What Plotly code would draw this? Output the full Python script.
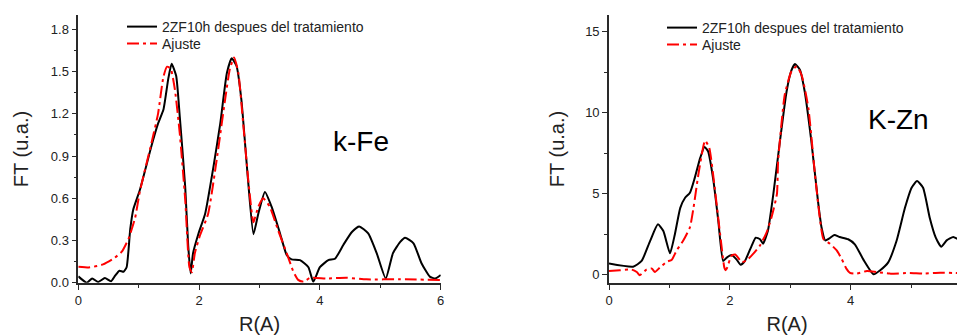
import plotly.graph_objects as go

# ---- k-Fe panel data ----
fe_exp_r = [0.0, 0.14, 0.23, 0.33, 0.44, 0.54, 0.61, 0.68, 0.75, 0.80, 0.86, 0.91, 1.02, 1.21, 1.32,
            1.41, 1.49, 1.545, 1.62, 1.68, 1.77, 1.82, 1.86, 1.90, 1.99, 2.10, 2.24, 2.35, 2.46, 2.54,
            2.62, 2.70, 2.81, 2.90, 2.98, 3.09, 3.20, 3.34, 3.45, 3.53, 3.67, 3.81, 3.89, 4.00, 4.14,
            4.25, 4.39, 4.53, 4.65, 4.80, 4.94, 5.09, 5.21, 5.33, 5.41, 5.55, 5.68, 5.82, 5.91, 6.0]
fe_exp_ft = [0.045, 0.0, 0.03, 0.005, 0.033, 0.01, 0.05, 0.085, 0.078, 0.11, 0.38, 0.52, 0.66, 0.97, 1.13,
             1.23, 1.45, 1.555, 1.47, 1.18, 0.68, 0.26, 0.066, 0.21, 0.35, 0.49, 0.83, 1.13, 1.49, 1.595,
             1.54, 1.30, 0.73, 0.345, 0.49, 0.645, 0.54, 0.35, 0.197, 0.166, 0.16, 0.11, 0.007, 0.11, 0.16,
             0.17, 0.27, 0.36, 0.40, 0.35, 0.21, 0.03, 0.21, 0.29, 0.32, 0.28, 0.14, 0.043, 0.03, 0.055]
fe_fit_r = [0.0, 0.19, 0.41, 0.58, 0.72, 0.83, 0.94, 1.02, 1.21, 1.32, 1.41, 1.47, 1.53, 1.60, 1.68,
            1.77, 1.84, 1.88, 1.93, 2.01, 2.15, 2.29, 2.43, 2.51, 2.58, 2.65, 2.73, 2.83, 2.90, 2.98,
            3.06, 3.17, 3.31, 3.45, 3.56, 3.64, 3.73, 3.84, 4.11, 4.44, 4.77, 5.33, 6.0]
fe_fit_ft = [0.114, 0.109, 0.13, 0.17, 0.22, 0.31, 0.46, 0.65, 0.99, 1.20, 1.465, 1.535, 1.52, 1.37, 1.06,
             0.59, 0.11, 0.075, 0.21, 0.33, 0.49, 0.87, 1.30, 1.52, 1.60, 1.49, 1.13, 0.66, 0.43, 0.54,
             0.60, 0.54, 0.37, 0.21, 0.08, 0.02, 0.007, 0.035, 0.03, 0.035, 0.024, 0.024, 0.02]

# ---- K-Zn panel data ----
zn_exp_r = [0.0, 0.40, 0.54, 0.68, 0.81, 0.90, 1.01, 1.09, 1.18, 1.26, 1.34, 1.42, 1.51, 1.58, 1.64,
            1.73, 1.81, 1.89, 1.95, 2.03, 2.11, 2.18, 2.25, 2.36, 2.43, 2.50, 2.55, 2.63, 2.72, 2.83,
            2.94, 3.02, 3.08, 3.16, 3.24, 3.35, 3.46, 3.52, 3.58, 3.65, 3.73, 3.82, 3.96, 4.07, 4.21,
            4.38, 4.49, 4.62, 4.76, 4.90, 5.01, 5.10, 5.20, 5.31, 5.41, 5.50, 5.59, 5.70, 5.81, 5.89, 6.0]
zn_exp_ft = [0.68, 0.49, 0.84, 2.07, 3.10, 2.69, 1.31, 2.48, 4.12, 4.74, 5.05, 5.97, 7.20, 7.88, 7.61,
             5.77, 3.30, 0.84, 1.05, 1.21, 0.94, 0.60, 0.84, 1.76, 2.28, 2.18, 1.91, 2.69, 4.95, 8.23,
             11.3, 12.6, 12.99, 12.64, 11.3, 8.23, 4.54, 2.89, 2.11, 2.24, 2.44, 2.32, 2.18, 1.87, 0.94,
             0.02, 0.27, 0.74, 2.07, 4.12, 5.36, 5.77, 5.36, 3.51, 2.28, 1.72, 2.11, 2.32, 2.11, 1.91, 1.8]
zn_fit_r = [0.0, 0.18, 0.375, 0.46, 0.51, 0.62, 0.71, 0.76, 0.84, 0.95, 1.04, 1.12, 1.23, 1.34, 1.40,
            1.48, 1.59, 1.66, 1.75, 1.84, 1.91, 1.93, 1.95, 2.03, 2.09, 2.20, 2.28, 2.39, 2.50, 2.61,
            2.69, 2.78, 2.80, 2.91, 3.02, 3.11, 3.19, 3.30, 3.41, 3.49, 3.55, 3.66, 3.77, 3.85, 3.93,
            3.99, 4.10, 4.27, 4.43, 4.65, 4.98, 5.20, 5.48, 5.70, 5.87, 6.0]
zn_fit_ft = [0.22, 0.27, 0.31, 0.16, -0.04, 0.31, 0.37, 0.16, 0.43, 0.78, 0.92, 1.49, 2.10, 2.92, 4.14,
             6.18, 8.27, 7.82, 5.36, 2.48, 0.43, 0.27, 0.37, 1.18, 1.24, 0.78, 0.88, 1.29, 1.80, 2.61,
             3.53, 4.96, 7.0, 11.1, 12.54, 12.85, 12.3, 10.3, 6.18, 3.51, 2.20, 1.90, 1.49, 0.98, 0.37,
             0.10, 0.06, 0.22, 0.16, 0.06, 0.10, 0.06, 0.12, 0.10, 0.08, 0.10]

exp_name = "2ZF10h despues del tratamiento"
fit_name = "Ajuste"
font_family = "Arial, Liberation Sans, sans-serif"
axis_col = "#2a2a2a"
red_dash = "12px,4px,3px,4px"

fig = go.Figure()
fig.add_trace(go.Scatter(x=fe_exp_r, y=fe_exp_ft, mode="lines", name=exp_name,
                         line=dict(color="black", width=2, shape="spline", smoothing=0.5),
                         xaxis="x", yaxis="y", legend="legend"))
fig.add_trace(go.Scatter(x=fe_fit_r, y=fe_fit_ft, mode="lines", name=fit_name,
                         line=dict(color="#ff0000", width=2, dash=red_dash, shape="spline", smoothing=0.5),
                         xaxis="x", yaxis="y", legend="legend3"))
fig.add_trace(go.Scatter(x=zn_exp_r, y=zn_exp_ft, mode="lines", name=exp_name,
                         line=dict(color="black", width=2, shape="spline", smoothing=0.5),
                         xaxis="x2", yaxis="y2", legend="legend2"))
fig.add_trace(go.Scatter(x=zn_fit_r, y=zn_fit_ft, mode="lines", name=fit_name,
                         line=dict(color="#ff0000", width=2, dash=red_dash, shape="spline", smoothing=0.5),
                         xaxis="x2", yaxis="y2", legend="legend4"))

# page has an 8px body margin: figure spans page x 8..965, y 8..335
W, H = 957, 327
ydom = [52.3 / H, 319.7 / H]
xdom1 = [70.3 / W, 432.7 / W]
xdom2 = [601.0 / W, 1.0]
x2max = (965 - 609) / 60.4

common_x = dict(showline=True, linecolor=axis_col, linewidth=1.6, ticks="outside", ticklen=5,
                tickwidth=1.3, tickcolor=axis_col, dtick=2, tick0=0, showgrid=False, zeroline=False,
                automargin=False,
                minor=dict(ticks="outside", dtick=1, ticklen=3, tickcolor=axis_col, tickwidth=1.3),
                tickfont=dict(size=13, color="#222", family=font_family),
                title=dict(text="R(A)", font=dict(size=20, color="#222", family=font_family), standoff=14))
common_y = dict(showline=True, linecolor=axis_col, linewidth=1.6, ticks="outside", ticklen=5,
                tickwidth=1.3, tickcolor=axis_col, showgrid=False, zeroline=False, automargin=False,
                tickfont=dict(size=13, color="#222", family=font_family))
ytitle_font = dict(size=20, color="#222", family=font_family)
frame = dict(showline=True, linecolor=axis_col, linewidth=1.6, ticks="inside", ticklen=3,
             tickcolor=axis_col, tickwidth=1.3, showticklabels=False, showgrid=False, zeroline=False,
             automargin=False)
leg_common = dict(xanchor="left", yanchor="top", bgcolor="rgba(0,0,0,0)",
                  font=dict(size=14, color="#222", family=font_family), itemwidth=30)

fig.update_layout(
    width=W, height=H, margin=dict(l=0, r=0, t=0, b=0, autoexpand=False),
    paper_bgcolor="white", plot_bgcolor="white",
    font=dict(family=font_family, color="#222"),
    xaxis=dict(domain=xdom1, range=[0, 6], anchor="y", **common_x),
    yaxis=dict(domain=ydom, range=[0, 1.9], anchor="x", dtick=0.3, tick0=0, tickformat=".1f",
               minor=dict(ticks="outside", dtick=0.15, ticklen=3, tickcolor=axis_col, tickwidth=1.3),
               title=dict(text="FT (u.a.)", font=ytitle_font, standoff=17), **common_y),
    xaxis2=dict(domain=xdom2, range=[0, x2max], anchor="y2", **common_x),
    yaxis2=dict(domain=ydom, range=[-0.5, 16], anchor="x2", dtick=5, tick0=0,
                minor=dict(ticks="outside", dtick=2.5, ticklen=3, tickcolor=axis_col, tickwidth=1.3),
                title=dict(text="FT (u.a.)", font=ytitle_font, standoff=15), **common_y),
    xaxis3=dict(overlaying="x", side="top", anchor="y", range=[0, 6], dtick=1, tick0=0, **frame),
    yaxis3=dict(overlaying="y", side="right", anchor="x", range=[0, 1.9], dtick=0.15, tick0=0, **frame),
    xaxis4=dict(overlaying="x2", side="top", anchor="y2", range=[0, x2max], dtick=1, tick0=0, **frame),
    legend=dict(x=114 / W, y=1 - 3 / H, **leg_common),
    legend3=dict(x=114 / W, y=1 - 20 / H, **leg_common),
    legend2=dict(x=654 / W, y=1 - 4 / H, **leg_common),
    legend4=dict(x=654 / W, y=1 - 21 / H, **leg_common),
    showlegend=True,
    annotations=[
        dict(text="k-Fe", x=4.68, y=1.0, xref="x", yref="y", showarrow=False,
             font=dict(size=28, color="black", family=font_family)),
        dict(text="K-Zn", x=4.79, y=9.6, xref="x2", yref="y2", showarrow=False,
             font=dict(size=28, color="black", family=font_family)),
    ],
)

fig.write_html("out.html")
